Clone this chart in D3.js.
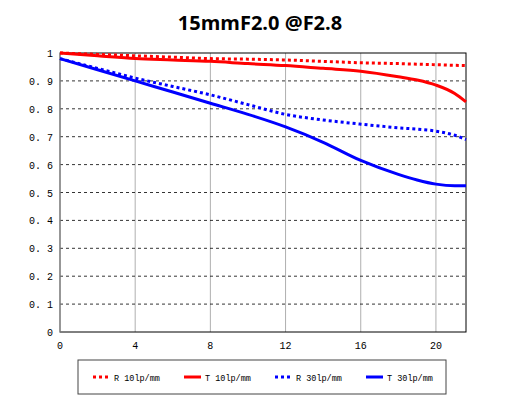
<!DOCTYPE html>
<html><head><meta charset="utf-8">
<script src="https://cdn.jsdelivr.net/npm/d3@7"></script>
<style>body{margin:0;background:#fff}</style>
</head><body>
<div id="chart"></div>
<script>
const fields = [0, 2, 4, 6, 8, 10, 12, 14, 16, 18, 19, 20, 21, 21.6];
const r10 = [1.0, 0.995, 0.99, 0.985, 0.98, 0.978, 0.975, 0.97, 0.965, 0.962, 0.96, 0.958, 0.956, 0.955];
const t10 = [1.0, 0.99, 0.98, 0.975, 0.97, 0.962, 0.955, 0.945, 0.935, 0.915, 0.903, 0.885, 0.855, 0.825];
const r30 = [0.98, 0.945, 0.91, 0.88, 0.85, 0.815, 0.78, 0.76, 0.745, 0.732, 0.727, 0.72, 0.705, 0.69];
const t30 = [0.98, 0.94, 0.9, 0.86, 0.82, 0.78, 0.735, 0.68, 0.615, 0.565, 0.545, 0.53, 0.524, 0.524];
const xTicks = [0, 4, 8, 12, 16, 20];
const yTicks = [0, 0.1, 0.2, 0.3, 0.4, 0.5, 0.6, 0.7, 0.8, 0.9, 1];
const series = [
  { name: "R 10lp/mm", values: r10, color: "#ff0000", dash: "3,3" },
  { name: "T 10lp/mm", values: t10, color: "#ff0000", dash: null },
  { name: "R 30lp/mm", values: r30, color: "#0000ff", dash: "3,3" },
  { name: "T 30lp/mm", values: t30, color: "#0000ff", dash: null }
];

const W = 518, H = 418;
const svg = d3.select("#chart").append("svg").attr("width", W).attr("height", H);
const x = d3.scaleLinear().domain([0, 21.6]).range([60, 466]);
const y = d3.scaleLinear().domain([0, 1]).range([332, 53]);
const mono = "'Liberation Mono', 'DejaVu Sans Mono', monospace";

svg.append("text").attr("x", 260).attr("y", 30).attr("text-anchor", "middle")
  .style("font-family", "'Open Sans', 'Noto Sans', sans-serif").style("font-weight", "bold")
  .style("font-size", "20px").text("15mmF2.0 @F2.8");

// vertical grid
svg.append("g").selectAll("line").data(xTicks.slice(1)).join("line")
  .attr("x1", d => x(d)).attr("x2", d => x(d)).attr("y1", y(0)).attr("y2", y(1))
  .attr("stroke", "#b0b0b0").attr("stroke-width", 1);
// horizontal grid
svg.append("g").selectAll("line").data(yTicks.slice(1, -1)).join("line")
  .attr("x1", x(0)).attr("x2", x(21.6)).attr("y1", d => y(d)).attr("y2", d => y(d))
  .attr("stroke", "#000").attr("stroke-dasharray", "3,3").attr("stroke-width", 0.8);

svg.append("rect").attr("x", x(0)).attr("y", y(1)).attr("width", x(21.6) - x(0))
  .attr("height", y(0) - y(1)).attr("fill", "none").attr("stroke", "#000").attr("stroke-width", 1);
svg.append("line").attr("x1", x(0)).attr("x2", x(0)).attr("y1", y(0)).attr("y2", y(1))
  .attr("stroke", "#b0b0b0");

svg.append("g").selectAll("text").data(xTicks).join("text")
  .attr("x", d => x(d)).attr("y", y(0) + 17).attr("text-anchor", "middle")
  .style("font-family", mono).style("font-size", "10px").text(d => d);
svg.append("g").selectAll("text").data(yTicks).join("text")
  .attr("x", 53).attr("y", d => y(d) + 4).attr("text-anchor", "end")
  .style("font-family", mono).style("font-size", "10px").text(d => d === 0 || d === 1 ? d : d3.format(".1f")(d).replace(".", ". "));

const line = d3.line().x((d, i) => x(fields[i])).y(d => y(d)).curve(d3.curveMonotoneX);
svg.append("g").selectAll("path").data(series).join("path")
  .attr("d", d => line(d.values)).attr("fill", "none")
  .attr("stroke", d => d.color).attr("stroke-width", 3)
  .attr("stroke-dasharray", d => d.dash);

// legend
svg.append("rect").attr("x", 78).attr("y", 360).attr("width", 368).attr("height", 34)
  .attr("fill", "none").attr("stroke", "#444").attr("stroke-width", 1);
const lg = svg.append("g").selectAll("g").data(series).join("g")
  .attr("transform", (d, i) => `translate(${93 + i * 91},380)`);
lg.append("line").attr("x1", 0).attr("x2", 17).attr("y1", -3).attr("y2", -3)
  .attr("stroke", d => d.color).attr("stroke-width", 3).attr("stroke-dasharray", d => d.dash);
lg.append("text").attr("x", 21).attr("y", 1).style("font-family", mono).style("font-size", "8.5px")
  .text(d => d.name);
</script>
</body></html>
